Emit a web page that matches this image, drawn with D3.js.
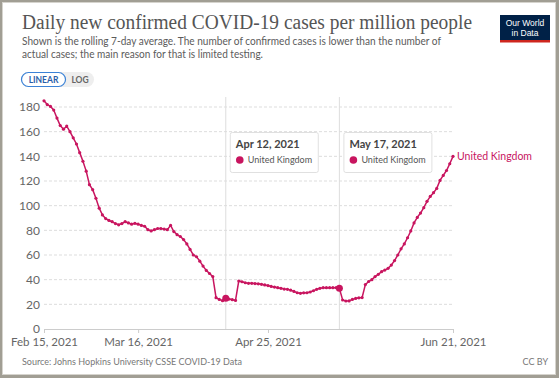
<!DOCTYPE html>
<html>
<head>
<meta charset="utf-8">
<script src="https://cdn.jsdelivr.net/npm/d3@7"></script>
<style>
  body { margin: 0; background: #a19e94; }
  svg { display: block; }
</style>
</head>
<body>
<div id="chart"></div>
<script>
// chart data
var startDate = "2021-02-15";
var endDate = "2021-06-21";
var country = "United Kingdom";
var cases = [
    185, 182, 180.5, 177.5, 171, 165, 162, 164.5, 160, 155,
    150, 143, 136, 128, 117, 113, 106, 98, 92.5, 89.5,
    88, 87, 85.5, 84.5, 85.5, 87, 86, 85, 85.7, 85,
    84, 83.3, 80.5, 79.5, 80.5, 81.5, 81.5, 81, 80.5, 84,
    79, 76.5, 75, 72.5, 69, 64.5, 60, 58.6, 55, 51,
    47.5, 45, 42.5, 25.4, 24, 23, 24.9, 24.3, 23.8, 23.2,
    38.9, 38.3, 37.5, 37, 37, 36.8, 36.6, 36.2, 35.7, 35.2,
    34.5, 34, 33.5, 33, 32.4, 32.2, 31.5, 30.5, 29.4, 28.9,
    29.3, 29.4, 30, 31, 32.2, 33, 33.5, 33.5, 33.5, 33.5,
    33.5, 33, 23.5, 22.7, 22.8, 24, 24.8, 25.3, 25.5, 36,
    38.5, 40, 42.5, 44.3, 46.5, 47.8, 49.2, 51.8, 55.5, 60,
    65, 69, 74, 79.5, 86, 90.5, 94, 98.4, 103.5, 107.5,
    110.5, 114, 120.5, 124.5, 128.5, 134, 140
];
var yTicks = [0, 20, 40, 60, 80, 100, 120, 140, 160, 180];
var xTickDates = ["2021-02-15", "2021-03-16", "2021-04-25", "2021-06-21"];
var hoverDates = ["2021-04-12", "2021-05-17"];

var W = 559, H = 378;
var lineColor = "#c8155f";
var parse = d3.timeParse("%Y-%m-%d");
var fmt = d3.timeFormat("%b %-d, %Y");

var days = d3.timeDay.range(parse(startDate), d3.timeDay.offset(parse(endDate), 1));
var data = days.map(function (d, i) {
    return { date: d, value: cases[i] };
});

var svg = d3.select("#chart")
    .append("svg")
    .attr("width", W)
    .attr("height", H);

// white card inside the grey frame
svg.append("rect")
    .attr("x", 2.5).attr("y", 2.5)
    .attr("width", W - 6).attr("height", H - 6)
    .attr("fill", "#fff")
    .attr("stroke", "#d6d4ce");

// title + subtitle
svg.append("text")
    .attr("x", 22).attr("y", 29)
    .attr("font-family", "'Liberation Serif', 'DejaVu Serif', serif")
    .attr("font-size", 20.5)
    .attr("fill", "#555")
    .attr("textLength", 450)
    .attr("lengthAdjust", "spacingAndGlyphs")
    .text("Daily new confirmed COVID-19 cases per million people");

var sub = ["Shown is the rolling 7-day average. The number of confirmed cases is lower than the number of",
    "actual cases; the main reason for that is limited testing."];
var subWidth = [419, 241];
svg.selectAll(".sub")
    .data(sub).enter()
    .append("text")
    .attr("class", "sub")
    .attr("x", 22)
    .attr("y", function (d, i) { return 45 + i * 12.5; })
    .attr("font-family", "Lato, 'Open Sans', sans-serif")
    .attr("font-size", 10.5)
    .attr("fill", "#5b5b5b")
    .attr("textLength", function (d, i) { return subWidth[i]; })
    .attr("lengthAdjust", "spacingAndGlyphs")
    .text(function (d) { return d; });

// logo
var logo = svg.append("g").attr("transform", "translate(500,15)");
logo.append("rect").attr("width", 50).attr("height", 27).attr("fill", "#002147");
logo.append("rect").attr("y", 25).attr("width", 50).attr("height", 2.5).attr("fill", "#ce261e");
logo.selectAll("text")
    .data(["Our World", "in Data"]).enter()
    .append("text")
    .attr("x", 25)
    .attr("y", function (d, i) { return 11 + i * 9.5; })
    .attr("text-anchor", "middle")
    .attr("font-family", "'Liberation Sans', Arial, sans-serif")
    .attr("font-size", 8.5)
    .attr("fill", "#fff")
    .text(function (d) { return d; });

// LINEAR / LOG toggle
svg.append("rect")
    .attr("x", 21).attr("y", 72)
    .attr("width", 73).attr("height", 15)
    .attr("rx", 7.5)
    .attr("fill", "#eee");
svg.append("rect")
    .attr("x", 21.5).attr("y", 72.5)
    .attr("width", 44).attr("height", 14)
    .attr("rx", 7)
    .attr("fill", "#fff")
    .attr("stroke", "#3b82d6")
    .attr("stroke-width", 1.2);
svg.append("text")
    .attr("x", 43.5).attr("y", 83)
    .attr("text-anchor", "middle")
    .attr("font-family", "Lato, sans-serif")
    .attr("font-size", 8.5)
    .attr("font-weight", "bold")
    .attr("fill", "#2a5ea8")
    .text("LINEAR");
svg.append("text")
    .attr("x", 80).attr("y", 83)
    .attr("text-anchor", "middle")
    .attr("font-family", "Lato, sans-serif")
    .attr("font-size", 8.5)
    .attr("font-weight", "bold")
    .attr("fill", "#666")
    .text("LOG");

// scales
var x = d3.scaleTime()
    .domain([parse(startDate), parse(endDate)])
    .range([44, 453]);
var y = d3.scaleLinear()
    .domain([0, 180])
    .range([329, 107]);

// grid lines
svg.append("g")
    .selectAll("line")
    .data(yTicks.filter(function (d) { return d > 0; }))
    .enter()
    .append("line")
    .attr("x1", 44).attr("x2", 453)
    .attr("y1", function (d) { return y(d); })
    .attr("y2", function (d) { return y(d); })
    .attr("stroke", "#ddd")
    .attr("stroke-dasharray", "3,2");

// y axis labels
svg.append("g")
    .attr("transform", "translate(44,0)")
    .call(d3.axisLeft(y).tickValues(yTicks).tickSize(0).tickPadding(4))
    .call(function (g) { g.select(".domain").remove(); })
    .selectAll("text")
    .attr("font-family", "Lato, sans-serif")
    .attr("font-size", 12)
    .attr("fill", "#666");

// x axis
var xg = svg.append("g")
    .attr("transform", "translate(0,329)")
    .call(d3.axisBottom(x).tickValues(xTickDates.map(parse)).tickFormat(fmt).tickSize(4).tickPadding(5));
xg.select(".domain").attr("stroke", "#ccc").attr("d", "M44,0.5H453");
xg.selectAll(".tick line").attr("stroke", "#ccc");
xg.selectAll("text")
    .attr("font-family", "Lato, sans-serif")
    .attr("font-size", 11.5)
    .attr("fill", "#666");

// hover lines
svg.selectAll(".hover")
    .data(hoverDates.map(parse))
    .enter()
    .append("line")
    .attr("class", "hover")
    .attr("x1", function (d) { return x(d); })
    .attr("x2", function (d) { return x(d); })
    .attr("y1", 97).attr("y2", 329)
    .attr("stroke", "#ddd");

// the line
var line = d3.line()
    .x(function (d) { return x(d.date); })
    .y(function (d) { return y(d.value); });
svg.append("path")
    .datum(data)
    .attr("d", line)
    .attr("fill", "none")
    .attr("stroke", lineColor)
    .attr("stroke-width", 1.5);
svg.selectAll(".dot")
    .data(data)
    .enter()
    .append("circle")
    .attr("class", "dot")
    .attr("cx", function (d) { return x(d.date); })
    .attr("cy", function (d) { return y(d.value); })
    .attr("r", 1.6)
    .attr("fill", lineColor);

// highlighted points
var hoverData = data.filter(function (d) {
    return hoverDates.indexOf(d3.timeFormat("%Y-%m-%d")(d.date)) >= 0;
});
svg.selectAll(".hl")
    .data(hoverData)
    .enter()
    .append("circle")
    .attr("class", "hl")
    .attr("cx", function (d) { return x(d.date); })
    .attr("cy", function (d) { return y(d.value); })
    .attr("r", 3.5)
    .attr("fill", lineColor);

// end label
var last = data[data.length - 1];
svg.append("text")
    .attr("x", x(last.date) + 4)
    .attr("y", y(last.value) + 3.5)
    .attr("font-family", "Lato, sans-serif")
    .attr("font-size", 10.5)
    .attr("fill", lineColor)
    .text(country);

// tooltips
var tip = svg.selectAll(".tip")
    .data(hoverData)
    .enter()
    .append("g")
    .attr("class", "tip")
    .attr("transform", function (d) { return "translate(" + (x(d.date) + 4) + ",132)"; });
tip.append("rect")
    .attr("x", 0.5).attr("y", 0.5)
    .attr("width", 88).attr("height", 40)
    .attr("rx", 2)
    .attr("fill", "#fff")
    .attr("stroke", "#e0e0e0");
tip.append("text")
    .attr("x", 6).attr("y", 16)
    .attr("font-family", "Lato, sans-serif")
    .attr("font-size", 11)
    .attr("font-weight", "bold")
    .attr("fill", "#444")
    .text(function (d) { return fmt(d.date); });
tip.append("circle")
    .attr("cx", 10).attr("cy", 28)
    .attr("r", 3.8)
    .attr("fill", lineColor);
tip.append("text")
    .attr("x", 18).attr("y", 31)
    .attr("font-family", "Lato, sans-serif")
    .attr("font-size", 9)
    .attr("fill", "#555")
    .text(country);

// footer
svg.append("text")
    .attr("x", 22).attr("y", 365)
    .attr("font-family", "Lato, sans-serif")
    .attr("font-size", 9)
    .attr("fill", "#777")
    .text("Source: Johns Hopkins University CSSE COVID-19 Data");
svg.append("text")
    .attr("x", 548).attr("y", 365)
    .attr("text-anchor", "end")
    .attr("font-family", "Lato, sans-serif")
    .attr("font-size", 9)
    .attr("fill", "#777")
    .text("CC BY");
</script>
</body>
</html>
